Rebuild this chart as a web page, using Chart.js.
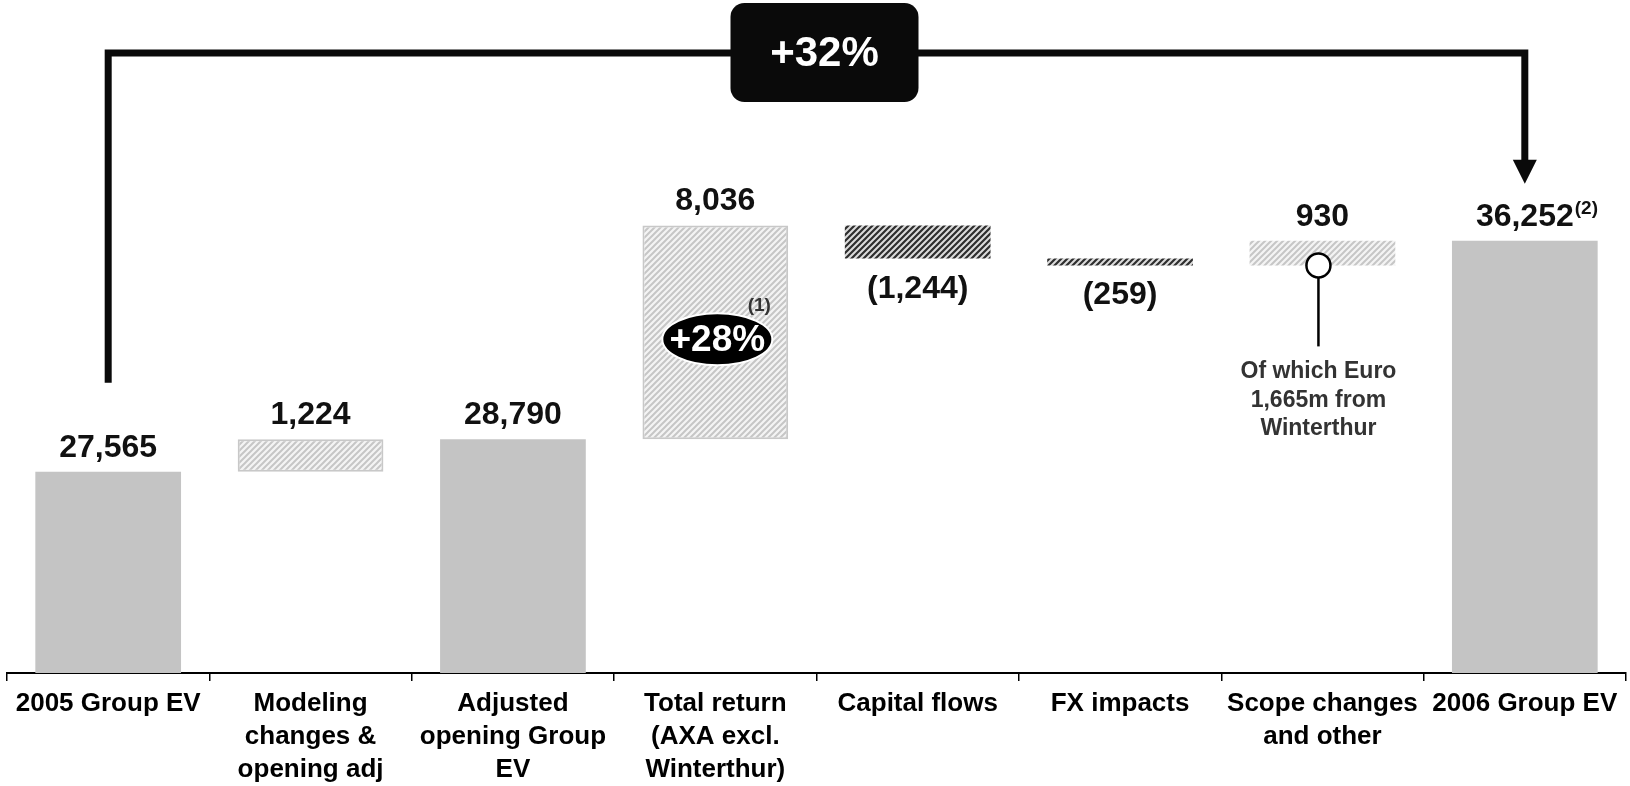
<!DOCTYPE html>
<html>
<head>
<meta charset="utf-8">
<title>Group EV bridge 2005 - 2006</title>
<script src="https://cdn.jsdelivr.net/npm/chart.js@4.4.1/dist/chart.umd.min.js"></script>
<style>
  html, body { margin: 0; padding: 0; background: #fff; }
  #wrap { width: 1630px; height: 786px; position: relative; }
</style>
</head>
<body>
<div id="wrap"><canvas id="evChart"></canvas></div>
<script>
// -------------------- DATA --------------------
const categories = [
  "2005 Group EV",
  ["Modeling", "changes &", "opening adj"],
  ["Adjusted", "opening Group", "EV"],
  ["Total return", "(AXA excl.", "Winterthur)"],
  "Capital flows",
  "FX impacts",
  ["Scope changes", "and other"],
  "2006 Group EV"
];
const values = [27565, 1224, 28790, 8036, -1244, -259, 930, 36252];
const isTotal = [true, false, true, false, false, false, false, true];

const totalGrowth = "+32%";
const returnGrowth = "+28%";
const returnNote = "(1)";
const finalNote = "(2)";
const scopeNote = ["Of which Euro", "1,665m from", "Winterthur"];

const yMin = 20000;
const yMax = 45300;

// -------------------- HELPERS --------------------
const FONT = "'Liberation Sans', Arial, Helvetica, sans-serif";

// floating bars: totals from the floor, deltas from the running total
let running = 0;
const ranges = values.map((v, i) => {
  if (isTotal[i]) { running = v; return [0, v]; }
  let r = [running, running + v];
  running += v;
  return r;
});

function fmt(v) {
  let s = Math.abs(v).toLocaleString("en-US");
  return v < 0 ? "(" + s + ")" : s;
}

function hatch(bg, fg, lw) {
  let c = document.createElement("canvas");
  c.width = 6; c.height = 6;
  let g = c.getContext("2d");
  g.fillStyle = bg;
  g.fillRect(0, 0, 6, 6);
  g.strokeStyle = fg;
  g.lineWidth = lw;
  g.beginPath();
  g.moveTo(-1, 7); g.lineTo(7, -1);
  g.moveTo(-4, 4); g.lineTo(4, -4);
  g.moveTo(2, 10); g.lineTo(10, 2);
  g.stroke();
  return g.createPattern(c, "repeat");
}

const solidGray = "#c4c4c4";
const lightHatch = hatch("#f4f4f4", "#c6c6c6", 2);
const darkHatch = hatch("#dcdcdc", "#2e2e2e", 2.2);

const fills = values.map((v, i) => isTotal[i] ? solidGray : (v > 0 ? lightHatch : darkHatch));
const borders = values.map((v, i) => (!isTotal[i] && v > 0 && i < 6) ? 2 : 0);

// -------------------- ANNOTATIONS --------------------
const annotations = {
  id: "annotations",
  afterDatasetsDraw(chart) {
    const ctx = chart.ctx;
    const meta = chart.getDatasetMeta(0);
    const y = chart.scales.y;
    const topOf = i => Math.min(y.getPixelForValue(ranges[i][0]), y.getPixelForValue(ranges[i][1]));
    const botOf = i => Math.max(y.getPixelForValue(ranges[i][0]), y.getPixelForValue(ranges[i][1]));
    const last = values.length - 1;

    ctx.save();
    ctx.textAlign = "center";
    ctx.textBaseline = "alphabetic";

    // value labels
    ctx.font = "bold 32px " + FONT;
    ctx.fillStyle = "#111";
    meta.data.forEach((bar, i) => {
      let txt = fmt(values[i]);
      if (values[i] < 0) {
        ctx.fillText(txt, bar.x, botOf(i) + 39);
      } else {
        ctx.fillText(txt, bar.x, topOf(i) - 15);
      }
    });

    // superscript on final value
    let fx = meta.data[last].x;
    let halfW = ctx.measureText(fmt(values[last])).width / 2;
    ctx.font = "bold 19px " + FONT;
    ctx.textAlign = "left";
    ctx.fillText(finalNote, fx + halfW + 1, topOf(last) - 27);

    // bracket with arrow
    let x0 = meta.data[0].x;
    let x7 = meta.data[last].x;
    let lineY = 53;
    let tipY = topOf(last) - 57;
    ctx.strokeStyle = "#0a0a0a";
    ctx.lineWidth = 7;
    ctx.lineJoin = "miter";
    ctx.beginPath();
    ctx.moveTo(x0, topOf(0) - 89);
    ctx.lineTo(x0, lineY);
    ctx.lineTo(x7, lineY);
    ctx.lineTo(x7, tipY - 20);
    ctx.stroke();
    ctx.fillStyle = "#0a0a0a";
    ctx.beginPath();
    ctx.moveTo(x7 - 12, tipY - 24);
    ctx.lineTo(x7 + 12, tipY - 24);
    ctx.lineTo(x7, tipY);
    ctx.closePath();
    ctx.fill();

    // +32% box
    let bx = (x0 + x7) / 2 + 8;
    let bw = 188, bh = 99;
    ctx.beginPath();
    ctx.roundRect(bx - bw / 2, 3, bw, bh, 14);
    ctx.fill();
    ctx.fillStyle = "#fff";
    ctx.font = "bold 42px " + FONT;
    ctx.textAlign = "center";
    ctx.textBaseline = "middle";
    ctx.fillText(totalGrowth, bx, 54);

    // +28% ellipse on total return bar
    let tr = meta.data[3];
    let ey = (topOf(3) + botOf(3)) / 2 + 7;
    let ex = tr.x + 2;
    ctx.beginPath();
    ctx.ellipse(ex, ey, 55, 26, 0, 0, Math.PI * 2);
    ctx.fillStyle = "#000";
    ctx.fill();
    ctx.lineWidth = 2;
    ctx.strokeStyle = "#fff";
    ctx.stroke();
    ctx.fillStyle = "#fff";
    ctx.font = "bold 37px " + FONT;
    ctx.fillText(returnGrowth, ex, ey + 1);
    ctx.fillStyle = "#333";
    ctx.font = "bold 19px " + FONT;
    ctx.textBaseline = "alphabetic";
    ctx.fillText(returnNote, ex + 42, ey - 28);

    // scope changes callout
    let sx = meta.data[6].x - 4;
    let sy = botOf(6);
    ctx.strokeStyle = "#000";
    ctx.lineWidth = 2.5;
    ctx.beginPath();
    ctx.moveTo(sx, sy + 12);
    ctx.lineTo(sx, sy + 81);
    ctx.stroke();
    ctx.beginPath();
    ctx.arc(sx, sy, 12, 0, Math.PI * 2);
    ctx.fillStyle = "#fff";
    ctx.fill();
    ctx.stroke();
    ctx.fillStyle = "#333";
    ctx.font = "bold 23px " + FONT;
    scopeNote.forEach((line, k) => {
      ctx.fillText(line, sx, sy + 113 + k * 28.5);
    });

    ctx.restore();
  }
};

// -------------------- CHART --------------------
new Chart(document.getElementById("evChart"), {
  type: "bar",
  data: {
    labels: categories,
    datasets: [{
      data: ranges,
      backgroundColor: fills,
      borderColor: "#c8c8c8",
      borderWidth: borders,
      borderSkipped: false,
      barPercentage: 0.72,
      categoryPercentage: 1
    }]
  },
  options: {
    responsive: true,
    maintainAspectRatio: false,
    animation: false,
    layout: { padding: { left: 7, right: 4, top: 0, bottom: 0 } },
    plugins: {
      legend: { display: false },
      tooltip: { enabled: false }
    },
    scales: {
      y: {
        display: false,
        min: yMin,
        max: yMax
      },
      x: {
        afterFit(scale) { scale.height = 113; },
        border: { display: true, color: "#000", width: 2 },
        grid: {
          display: true,
          drawOnChartArea: false,
          drawTicks: true,
          tickLength: 8,
          color: "#000",
          lineWidth: 1.5,
          offset: true
        },
        ticks: {
          color: "#000",
          padding: 6,
          maxRotation: 0,
          autoSkip: false,
          font: { family: FONT, size: 26, weight: "bold", lineHeight: 1.27 }
        }
      }
    }
  },
  plugins: [annotations]
});
</script>
</body>
</html>
